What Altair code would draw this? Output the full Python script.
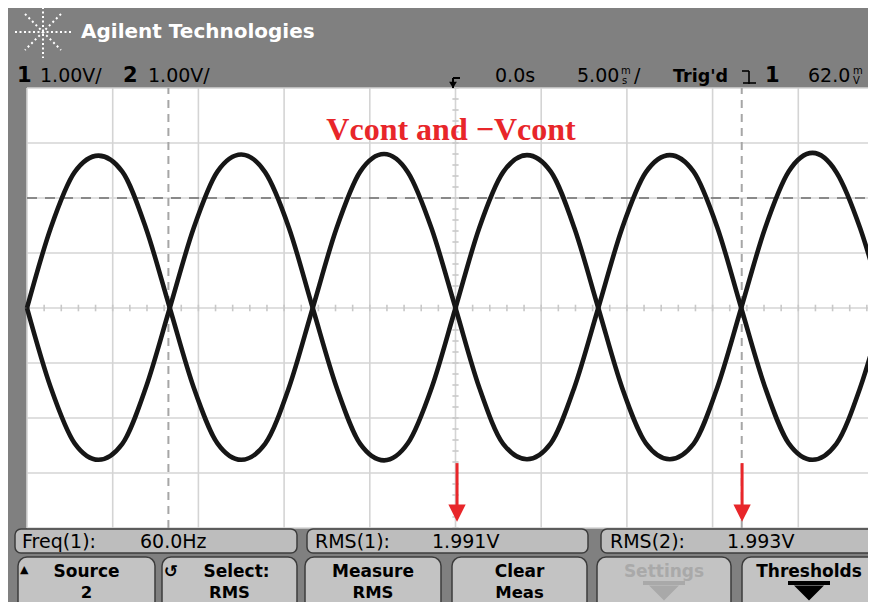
import altair as alt
import pandas as pd

# ---------------- data read from the screen ----------------
# time (ms) of samples, 30-degree steps of the 60 Hz waveform
T_MS = [-25, -23.61, -22.22, -20.83, -19.44, -18.06, -16.67, -15.28, -13.89, -12.5,
        -11.11, -9.72, -8.33, -6.94, -5.56, -4.17, -2.78, -1.39, 0, 1.39, 2.78,
        4.17, 5.56, 6.94, 8.33, 9.72, 11.11, 12.5, 13.89, 15.28, 16.67, 18.06,
        19.44, 20.83, 22.22, 23.61, 25]
# channel 1 (V)
CH1_V = [0, 1.46, 2.47, 2.77, 2.48, 1.45,
         0, -1.44, -2.46, -2.76, -2.47, -1.45,
         0, 1.45, 2.48, 2.80, 2.47, 1.44,
         0, -1.45, -2.47, -2.75, -2.46, -1.44,
         0, 1.45, 2.47, 2.78, 2.48, 1.46,
         0, -1.44, -2.46, -2.76, -2.47, -1.45,
         0]
# channel 2 (V)
CH2_V = [0, -1.45, -2.46, -2.76, -2.47, -1.44,
         0, 1.45, 2.48, 2.79, 2.47, 1.46,
         0, -1.44, -2.47, -2.77, -2.46, -1.45,
         0, 1.46, 2.47, 2.78, 2.48, 1.45,
         0, -1.45, -2.46, -2.75, -2.47, -1.44,
         0, 1.45, 2.48, 2.82, 2.47, 1.45,
         0]

GRID_T = [-25, -20, -15, -10, -5, 0, 5, 10, 15, 20, 25]       # 5 ms/div
GRID_V = [-4, -3, -2, -1, 0, 1, 2, 3, 4]                       # 1 V/div
MINOR_T = [t / 1.0 for t in range(-25, 26)]                    # 1 ms minor ticks
MINOR_V = [v / 5.0 for v in range(-20, 21)]                    # 0.2 V minor ticks
CURSOR_T = [-16.75, 16.7]
CURSOR_V = [2.0]
ARROW_T = [0.09, 16.72]

HEADER_TITLE = "Agilent Technologies"
MEAS = [("Freq(1):", "60.0Hz"), ("RMS(1):", "1.991V"), ("RMS(2):", "1.993V")]
BUTTONS = [("Source", "2"), ("Select:", "RMS"), ("Measure", "RMS"),
           ("Clear", "Meas"), ("Settings", None), ("Thresholds", None)]
ANNOT = "Vcont and \u2212Vcont"

# ---------------- geometry ----------------
W, H = 860, 594
PX_PER_MS = 857 / 50.0
X_LO = -25 - 19 / PX_PER_MS
X_HI = X_LO + W / PX_PER_MS
PX_PER_V = 55.0
Y_HI = 300 / PX_PER_V
Y_LO = Y_HI - H / PX_PER_V

xs = alt.Scale(domain=[X_LO, X_HI], nice=False, zero=False)
ys = alt.Scale(domain=[Y_LO, Y_HI], nice=False, zero=False)

one = pd.DataFrame({"k": [0]})
FONT = "DejaVu Sans"
BG = "#808080"


def px_text(txt, x, y, size=19, bold=False, color="black", align="left", font=FONT):
    return alt.Chart(one).mark_text(
        text=txt, align=align, baseline="alphabetic", font=font, fontSize=size,
        fontWeight="bold" if bold else "normal", color=color
    ).encode(x=alt.value(x), y=alt.value(y))


def px_rect(x, x2, y, y2, fill, stroke=None, sw=1.5, r=0):
    kw = dict(fill=fill, cornerRadius=r)
    if stroke:
        kw.update(stroke=stroke, strokeWidth=sw)
    return alt.Chart(one).mark_rect(**kw).encode(
        x=alt.value(x), x2=alt.value(x2), y=alt.value(y), y2=alt.value(y2))


def px_rule(x, x2, y, y2, color, sw=2, dash=None):
    kw = dict(color=color, strokeWidth=sw)
    if dash:
        kw["strokeDash"] = dash
    return alt.Chart(one).mark_rule(**kw).encode(
        x=alt.value(x), x2=alt.value(x2), y=alt.value(y), y2=alt.value(y2))


def px_arrow(cx, cy, color):
    # wide softkey arrow: bar + flat triangle
    bar = px_rect(cx - 21, cx + 21, cy - 12, cy - 8, color)
    tri = alt.Chart(one).mark_point(
        shape="M-1,-0.5L1,-0.5L0,0.5Z", size=900, filled=True, color=color,
        opacity=1, strokeWidth=0).encode(x=alt.value(cx), y=alt.value(cy))
    return [bar, tri]


layers = []

# plot area
layers.append(alt.Chart(one).mark_rect(color="white").encode(
    x=alt.XDatum(-25, scale=xs, axis=None), x2=alt.X2Datum(X_HI),
    y=alt.YDatum(-4, scale=ys, axis=None), y2=alt.Y2Datum(4)))

# grid
gx = pd.DataFrame({"t": GRID_T})
gy = pd.DataFrame({"v": GRID_V})
layers.append(alt.Chart(gx).mark_rule(color="#d4d4d4", strokeWidth=1.6).encode(
    x=alt.X("t:Q", scale=xs, axis=None),
    y=alt.YDatum(-4, scale=ys, axis=None), y2=alt.Y2Datum(4)))
layers.append(alt.Chart(gy).mark_rule(color="#d4d4d4", strokeWidth=1.6).encode(
    y=alt.Y("v:Q", scale=ys, axis=None),
    x=alt.XDatum(-25, scale=xs, axis=None), x2=alt.X2Datum(X_HI)))
# minor ticks on the centre axes
layers.append(alt.Chart(pd.DataFrame({"t": MINOR_T})).mark_rule(color="#c8c8c8", strokeWidth=1.6).encode(
    x=alt.X("t:Q", scale=xs, axis=None),
    y=alt.YDatum(-0.06, scale=ys, axis=None), y2=alt.Y2Datum(0.06)))
layers.append(alt.Chart(pd.DataFrame({"v": MINOR_V})).mark_rule(color="#c8c8c8", strokeWidth=1.6).encode(
    y=alt.Y("v:Q", scale=ys, axis=None),
    x=alt.XDatum(-0.18, scale=xs, axis=None), x2=alt.X2Datum(0.18)))

# cursors
layers.append(alt.Chart(pd.DataFrame({"t": CURSOR_T})).mark_rule(
    color="#a6a6a6", strokeWidth=2, strokeDash=[8, 6]).encode(
    x=alt.X("t:Q", scale=xs, axis=None),
    y=alt.YDatum(-4, scale=ys, axis=None), y2=alt.Y2Datum(4)))
layers.append(alt.Chart(pd.DataFrame({"v": CURSOR_V})).mark_rule(
    color="#6e6e6e", strokeWidth=1.6, strokeDash=[10, 8]).encode(
    y=alt.Y("v:Q", scale=ys, axis=None),
    x=alt.XDatum(-25, scale=xs, axis=None), x2=alt.X2Datum(X_HI)))

# traces
tr = pd.concat([
    pd.DataFrame({"t": T_MS, "v": CH1_V, "ch": "1"}),
    pd.DataFrame({"t": T_MS, "v": CH2_V, "ch": "2"}),
])
layers.append(alt.Chart(tr).mark_line(
    interpolate="monotone", strokeWidth=4.6, color="#161616", clip=True).encode(
    x=alt.X("t:Q", scale=xs, axis=None),
    y=alt.Y("v:Q", scale=ys, axis=None),
    detail="ch:N"))

# red annotation
RED = "#e8262a"
layers.append(px_text(ANNOT, 443, 132, size=32, bold=True, color=RED,
                      align="center", font="Liberation Serif"))
ar = pd.DataFrame({"t": ARROW_T})
layers.append(alt.Chart(ar).mark_rule(color=RED, strokeWidth=3).encode(
    x=alt.X("t:Q", scale=xs, axis=None),
    y=alt.YDatum(-2.82, scale=ys, axis=None), y2=alt.Y2Datum(-3.62)))
layers.append(alt.Chart(ar).mark_point(
    shape="M-1,-1L1,-1L0,1Z", size=300, filled=True, color=RED, opacity=1).encode(
    x=alt.X("t:Q", scale=xs, axis=None),
    y=alt.YDatum(-3.73, scale=ys, axis=None)))

# ---------------- header ----------------
# logo rays (dotted)
layers.append(px_rule(7, 63, 24, 24, "white", 2, [2, 2.5]))
layers.append(px_rule(35, 35, -1, 50, "white", 2, [2, 2.5]))
layers.append(px_rule(17, 53, 6, 42, "white", 2, [2, 3]))
layers.append(px_rule(53, 17, 6, 42, "white", 2, [2, 3]))
layers.append(px_text(HEADER_TITLE, 73, 30, size=20, bold=True, color="white"))

layers.append(px_text("1", 9, 74, size=21, bold=True))
layers.append(px_text("1.00V/", 32, 74, size=19))
layers.append(px_text("2", 115, 74, size=21, bold=True))
layers.append(px_text("1.00V/", 140, 74, size=19))
# trigger position marker
layers.append(px_rule(445, 452, 70, 70, "black", 2))
layers.append(px_rule(445, 445, 70, 80, "black", 2))
layers.append(alt.Chart(one).mark_point(shape="triangle-down", size=60, filled=True,
                                        color="black", opacity=1).encode(
    x=alt.value(445), y=alt.value(77)))
layers.append(px_text("0.0s", 487, 74, size=19))
layers.append(px_text("5.00", 569, 74, size=19))
layers.append(px_text("m", 613, 66, size=10))
layers.append(px_text("s", 614, 76, size=10))
layers.append(px_text("/", 626, 74, size=19))
layers.append(px_text("Trig'd", 665, 74, size=17.5, bold=True))
layers.append(px_rule(734, 741, 63, 63, "black", 1.6))
layers.append(px_rule(741, 741, 63, 76, "black", 1.6))
layers.append(px_rule(735, 748, 75, 75, "black", 1.6))
layers.append(px_text("1", 757, 74, size=21, bold=True))
layers.append(px_text("62.0", 800, 74, size=19))
layers.append(px_text("m", 845, 66, size=10))
layers.append(px_text("V", 845, 76, size=10))

# ---------------- measurement bar ----------------
BOX_FILL = "#bdbdbd"
EDGE = "#3c3c3c"
box_x = [(7, 289), (299, 580), (593, 880)]
lab_x = [(14, 132), (307, 424), (602, 719)]
for (x1, x2), (lx, vx), (lab, val) in zip(box_x, lab_x, MEAS):
    layers.append(px_rect(x1, x2, 521, 545, BOX_FILL, EDGE, 1.5, 6))
    layers.append(px_text(lab, lx, 540, size=19))
    layers.append(px_text(val, vx, 540, size=19))

# ---------------- soft keys ----------------
BTN_FILL = "#c3c3c3"
btn_x = [(10, 147), (154, 289), (297, 433), (444, 579), (589, 723), (734, 880)]
for i, ((x1, x2), (l1, l2)) in enumerate(zip(btn_x, BUTTONS)):
    layers.append(px_rect(x1, x2, 549, 602, BTN_FILL, EDGE, 1.5, 9))
    cx = (x1 + x2) / 2
    col = "#a9a9a9" if l1 == "Settings" else "black"
    if i == 1:
        layers.append(px_text(l1, cx + 7, 569, size=17, bold=True, color=col, align="center"))
        layers.append(px_text("↺", 156, 569, size=17, bold=True))
    elif i == 5:
        layers.append(px_text(l1, cx - 6, 569, size=17, bold=True, color=col, align="center"))
    else:
        layers.append(px_text(l1, cx, 569, size=17, bold=True, color=col, align="center"))
    if l2 is None:
        ax = cx - 6 if i == 5 else cx
        layers.extend(px_arrow(ax, 585, col))
    else:
        layers.append(px_text(l2, cx, 590, size=16.5, bold=True, color=col, align="center"))
layers.append(px_text("▲", 12, 565, size=11))

chart = alt.layer(*layers).properties(
    width=W, height=H, padding=0,
    autosize=alt.AutoSizeParams(type="none"),
    background=BG,
).configure_view(stroke="transparent")

chart.save("out.html", embed_options={"renderer": "svg", "actions": False})
